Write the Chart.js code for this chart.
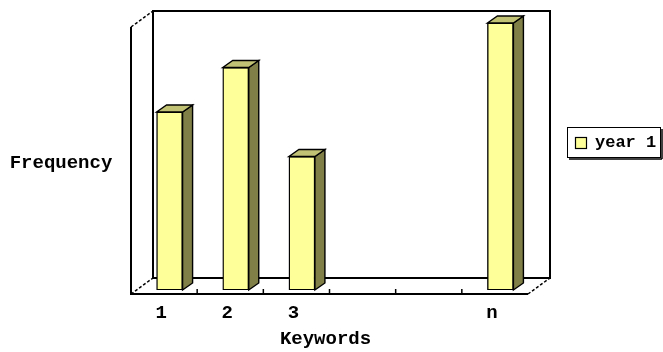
<!DOCTYPE html>
<html>
<head>
<meta charset="utf-8">
<script src="https://cdn.jsdelivr.net/npm/chart.js@4/dist/chart.umd.min.js"></script>
<style>
  html, body { margin: 0; padding: 0; background: #fff; }
  #wrap { width: 663px; height: 352px; }
</style>
</head>
<body>
<div id="wrap"><canvas id="c" width="663" height="352"></canvas></div>
<script>
// Keyword frequency data
const categories = ['1', '2', '3', '', '', 'n'];
const year1 = [4, 5, 3, null, null, 6];
const seriesLabel = 'year 1';
const yMin = 0;
const yMax = 6;
const xTitle = 'Keywords';
const yTitle = 'Frequency';

const FONT = 'bold 19px "Liberation Mono", monospace';
const LEGEND_FONT = 'bold 17px "Liberation Mono", monospace';
const FACE = '#ffff99';
const SIDE = '#7f7f47';
const TOP = '#c2c274';

// Pseudo-3D box: the bars stand a quarter of the way into the box depth
const WALL_DX = 22, WALL_DY = -16;
const BAR_PLANE = 0.25;
const BAR_DX = 10, BAR_DY = -7;

function line(ctx, x1, y1, x2, y2) {
  ctx.beginPath();
  ctx.moveTo(x1, y1);
  ctx.lineTo(x2, y2);
  ctx.stroke();
}

const box3d = {
  id: 'box3d',
  beforeDatasetsDraw(chart) {
    const ctx = chart.ctx, a = chart.chartArea, xs = chart.scales.x;
    const fx = -BAR_PLANE * WALL_DX, fy = -BAR_PLANE * WALL_DY;
    const bx = (1 - BAR_PLANE) * WALL_DX, by = (1 - BAR_PLANE) * WALL_DY;
    const FL = a.left + fx, FR = a.right + fx, FT = a.top + fy, FB = a.bottom + fy;
    const BL = a.left + bx, BR = a.right + bx, BT = a.top + by, BB = a.bottom + by;
    ctx.save();
    ctx.strokeStyle = '#000';
    // back wall
    ctx.fillStyle = '#fff';
    ctx.lineWidth = 2;
    ctx.fillRect(BL, BT, BR - BL, BB - BT);
    ctx.strokeRect(BL, BT, BR - BL, BB - BT);
    // left wall front edge and floor front edge
    line(ctx, FL, FT, FL, FB + 1);
    line(ctx, FL, FB, FR, FB);
    // depth edges
    ctx.lineWidth = 1.5;
    ctx.setLineDash([3, 2]);
    line(ctx, FL, FT, BL, BT);
    line(ctx, FL, FB, BL, BB);
    line(ctx, FR, FB, BR, BB);
    ctx.setLineDash([]);
    // category ticks on the front floor edge
    ctx.lineWidth = 1.5;
    const step = xs.getPixelForValue(1) - xs.getPixelForValue(0);
    for (let i = 0; i < categories.length - 1; i++) {
      const tx = xs.getPixelForValue(i) + step / 2 + fx;
      line(ctx, tx, FB, tx, FB - 5);
    }
    ctx.restore();
  },
  afterDatasetsDraw(chart) {
    const ctx = chart.ctx;
    const meta = chart.getDatasetMeta(0);
    ctx.save();
    ctx.strokeStyle = '#000';
    ctx.lineWidth = 1.4;
    ctx.lineJoin = 'miter';
    meta.data.forEach((el, i) => {
      if (year1[i] == null) return;
      const p = el.getProps(['x', 'y', 'base', 'width'], true);
      const l = p.x - p.width / 2, r = p.x + p.width / 2, t = p.y, b = p.base;
      // side face
      ctx.fillStyle = SIDE;
      ctx.beginPath();
      ctx.moveTo(r, t); ctx.lineTo(r + BAR_DX, t + BAR_DY);
      ctx.lineTo(r + BAR_DX, b + BAR_DY); ctx.lineTo(r, b);
      ctx.closePath(); ctx.fill(); ctx.stroke();
      // top face
      ctx.fillStyle = TOP;
      ctx.beginPath();
      ctx.moveTo(l, t); ctx.lineTo(l + BAR_DX, t + BAR_DY);
      ctx.lineTo(r + BAR_DX, t + BAR_DY); ctx.lineTo(r, t);
      ctx.closePath(); ctx.fill(); ctx.stroke();
    });
    ctx.restore();
  },
  afterDraw(chart) {
    const ctx = chart.ctx, a = chart.chartArea, xs = chart.scales.x;
    const fx = -BAR_PLANE * WALL_DX, fy = -BAR_PLANE * WALL_DY;
    const FB = a.bottom + fy;
    ctx.save();
    ctx.fillStyle = '#000';
    ctx.font = FONT;
    ctx.textAlign = 'center';
    ctx.textBaseline = 'middle';
    // category labels
    categories.forEach((c, i) => {
      if (!c) return;
      ctx.fillText(c, xs.getPixelForValue(i) + fx - 3, FB + 19);
    });
    // axis titles
    ctx.fillText(xTitle, (a.left + a.right) / 2 + fx - 4, FB + 45);
    ctx.fillText(yTitle, 61, 163);
    // legend
    const lx = 567, ly = 127, lw = 93, lh = 30;
    ctx.fillStyle = '#fff';
    ctx.fillRect(lx, ly, lw, lh);
    ctx.strokeStyle = '#000';
    ctx.lineWidth = 1;
    ctx.strokeRect(lx + 0.5, ly + 0.5, lw, lh);
    ctx.lineWidth = 1.5;
    line(ctx, lx + 2, ly + lh + 2, lx + lw + 2, ly + lh + 2);
    line(ctx, lx + lw + 2, ly + 2, lx + lw + 2, ly + lh + 2);
    ctx.fillStyle = FACE;
    ctx.fillRect(575.5, 137.5, 11, 11);
    ctx.lineWidth = 1.2;
    ctx.strokeRect(575.5, 137.5, 11, 11);
    ctx.fillStyle = '#000';
    ctx.textAlign = 'left';
    ctx.font = LEGEND_FONT;
    ctx.fillText(seriesLabel, 595, 143);
    ctx.restore();
  }
};

new Chart(document.getElementById('c'), {
  type: 'bar',
  data: {
    labels: categories,
    datasets: [{
      label: seriesLabel,
      data: year1,
      backgroundColor: FACE,
      borderColor: '#000',
      borderWidth: 1.4,
      borderSkipped: false,
      barThickness: 26
    }]
  },
  options: {
    responsive: false,
    animation: false,
    layout: { padding: { left: 136.5, right: 129.5, top: 23, bottom: 62 } },
    scales: {
      x: { display: false },
      y: { display: false, min: yMin, max: yMax }
    },
    plugins: { legend: { display: false }, tooltip: { enabled: false } }
  },
  plugins: [box3d]
});
</script>
</body>
</html>
